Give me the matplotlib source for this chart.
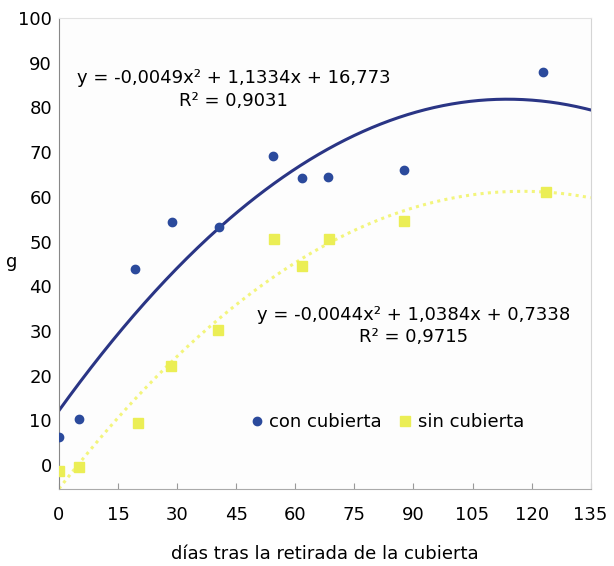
import numpy as np
import matplotlib
matplotlib.use('Agg')
import matplotlib.pyplot as plt

plt.rcParams['font.family'] = ['DejaVu Sans']

# days after removing the cover
dias_con = [0, 5, 19.3, 28.7, 40.6, 54.3, 61.6, 68.2, 87.6, 123]
g_con = [6.3, 10.3, 43.8, 54.4, 53.3, 69.2, 64.2, 64.5, 66.1, 88]

dias_sin = [0, 5.1, 20, 28.4, 40.3, 54.6, 61.7, 68.5, 87.6, 123.6]
g_sin = [-1.3, -0.4, 9.4, 22.2, 30.3, 50.6, 44.5, 50.6, 54.6, 61.1]

xticks = [0, 15, 30, 45, 60, 75, 90, 105, 120, 135]
yticks = [0, 10, 20, 30, 40, 50, 60, 70, 80, 90, 100]

azul = '#2b4a9c'
azul_linea = '#2a3585'
amarillo = '#ebee55'
amarillo_linea = '#f3f57c'

fig = plt.figure(figsize=(6.14, 5.66), dpi=100)
ax = fig.add_axes([0.096, 0.136, 0.866, 0.832])
ax.set_facecolor('#fdfdfd')

# quadratic trend lines fitted to the points
xs = np.linspace(0, 135, 300)
p_con = np.polyfit(dias_con, g_con, 2)
p_sin = np.polyfit(dias_sin, g_sin, 2)
ax.plot(xs, np.polyval(p_con, xs), color=azul_linea, lw=2.2, zorder=2)
ax.plot(xs, np.polyval(p_sin, xs), color=amarillo_linea, lw=2.2, ls=(0, (1, 1.4)), zorder=2)

ax.plot(dias_con, g_con, 'o', color=azul, ms=6, ls='none', label='con cubierta', zorder=3)
ax.plot(dias_sin, g_sin, 's', color=amarillo, ms=6.5, ls='none', label='sin cubierta', zorder=3)

ax.set_xlim(0, 135)
ax.set_ylim(-5.4, 100)
ax.set_xticks(xticks)
ax.set_yticks(yticks)
ax.tick_params(axis='x', direction='in', length=4, pad=12, labelsize=13, color='#999999')
ax.tick_params(axis='y', direction='in', length=0, pad=5, labelsize=13)

ax.spines['left'].set_color('#888888')
ax.spines['bottom'].set_color('#aaaaaa')
ax.spines['top'].set_color('#e2e2e2')
ax.spines['right'].set_color('#d5d5d5')

ax.text(44.4, 86.6, 'y = -0,0049x² + 1,1334x + 16,773', ha='center', va='center', fontsize=13)
ax.text(44.4, 81.4, 'R² = 0,9031', ha='center', va='center', fontsize=13)
ax.text(90.1, 33.5, 'y = -0,0044x² + 1,0384x + 0,7338', ha='center', va='center', fontsize=13)
ax.text(90.1, 28.6, 'R² = 0,9715', ha='center', va='center', fontsize=13)

ax.legend(loc='center', bbox_to_anchor=(0.615, 0.142), ncol=2, frameon=False,
          fontsize=13, handletextpad=0.2, columnspacing=0.8, handlelength=1.0)

ax.set_xlabel('días tras la retirada de la cubierta', fontsize=13, labelpad=15)
fig.text(12 / 614, 1 - 262 / 566, 'g', ha='center', va='center', fontsize=13)

fig.savefig('out.png', dpi=100)
